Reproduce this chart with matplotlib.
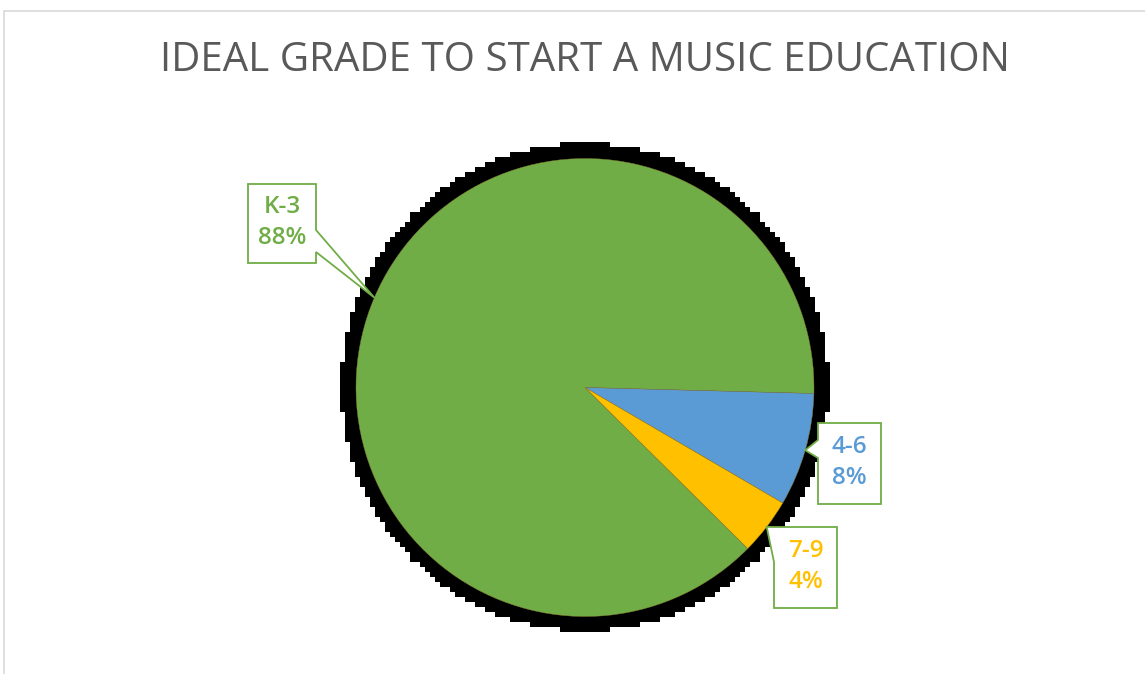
import numpy as np
import matplotlib
matplotlib.use("Agg")
import matplotlib.pyplot as plt
from matplotlib.patches import Polygon, Rectangle

plt.rcParams['font.family'] = ['Open Sans', 'DejaVu Sans']

# survey shares per grade band
grades = ["K-3", "4-6", "7-9"]
shares = [88, 8, 4]
colors = ["#70AD47", "#5B9BD5", "#FFC000"]

W, H = 1145, 674
fig = plt.figure(figsize=(W / 100, H / 100), dpi=100)
ax = fig.add_axes([0, 0, 1, 1])

# chart frame (only top and left edges are visible)
ax.add_patch(Rectangle((4, -20), 1300, H - 11 + 20, fill=False,
                       edgecolor="#D9D9D9", linewidth=1.2, clip_on=False))

cx, cy, r = 585, H - 387.5, 229

# blocky dark shadow behind the pie
cell = 5
gx = np.arange(cx - 260, cx + 260, cell)
gy = np.arange(cy - 260, cy + 260, cell)
XX, YY = np.meshgrid(gx + cell / 2, gy + cell / 2)
inside = np.hypot(XX - cx, YY - cy) <= r + 15
shadow = np.zeros(inside.shape + (4,))
shadow[..., 3] = inside.astype(float)
ax.imshow(shadow, extent=(gx[0], gx[-1] + cell, gy[0], gy[-1] + cell),
          origin='lower', interpolation='nearest', zorder=1)

wedges, _ = ax.pie(shares, colors=colors, startangle=-44.7, counterclock=False,
                   center=(cx, cy), radius=r, frame=True,
                   wedgeprops=dict(edgecolor='#8a7a30', linewidth=0.3))
for w in wedges:
    w.set_zorder(2)
ax.set_xlim(0, W)
ax.set_ylim(0, H)
ax.set_aspect('equal')
ax.axis('off')

ax.text(585, H - 61, "IDEAL GRADE TO START A MUSIC EDUCATION", ha='center', va='center',
        fontsize=29, color="#595959")

# label boxes: left, top, width, height (pixels from top), pointer side and span
boxes = [
    (248, 184, 68, 79, 'right', 46, 68),
    (818, 423, 63, 81, 'left', 17, 35),
    (774, 527, 63, 81, 'left', 0, 35),
]


def callout(ax, wedge, box):
    left, top, bw, bh, side, s0, s1 = box
    mid = np.deg2rad((wedge.theta1 + wedge.theta2) / 2)
    tip = (cx + r * np.cos(mid), cy + r * np.sin(mid))
    x0, x1 = left, left + bw
    y0, y1 = H - top, H - top - bh
    if side == 'right':
        pts = [(x0, y0), (x1, y0), (x1, y0 - s0), tip, (x1, y0 - s1),
               (x1, y1), (x0, y1)]
    else:
        pts = [(x0, y0), (x1, y0), (x1, y1), (x0, y1), (x0, y0 - s1), tip,
               (x0, y0 - s0)]
    ax.add_patch(Polygon(pts, closed=True, facecolor='white', edgecolor="#70AD47",
                         linewidth=1.3, zorder=4))
    return (x0 + x1) / 2, (y0 + y1) / 2


for w, g, s, c, b in zip(wedges, grades, shares, colors, boxes):
    tx, ty = callout(ax, w, b)
    ax.text(tx, ty + 1, f"{g}\n{s}%", ha='center', va='center', fontsize=17.5,
            color=c, fontweight='semibold', linespacing=1.35, zorder=5)

fig.savefig("out.png", dpi=100)
